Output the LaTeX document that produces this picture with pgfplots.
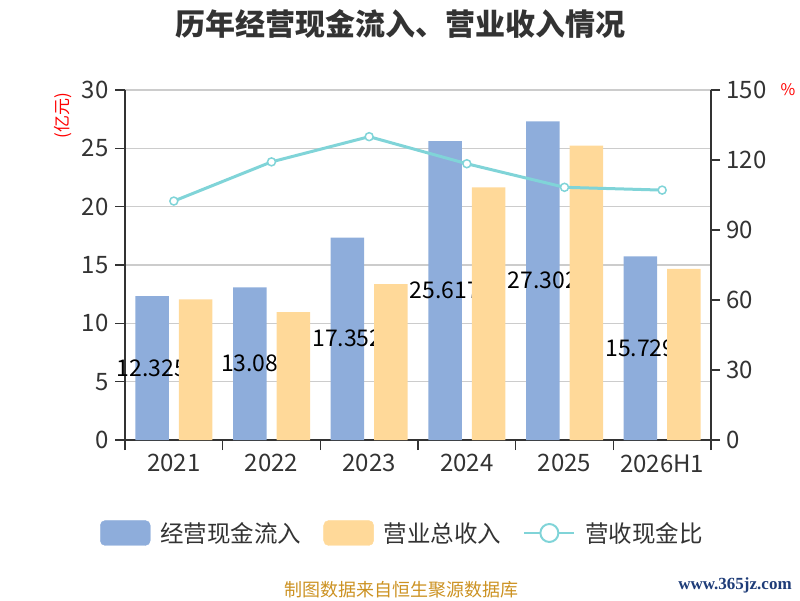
\documentclass[border=0pt]{standalone}
\usepackage{pgfplots}
\pgfplotsset{compat=1.18}
\usepackage{fontspec}
\setmainfont{Noto Sans CJK SC}
\newfontfamily\wmfont{Liberation Serif}
\definecolor{barblue}{RGB}{142,173,219}
\definecolor{barorange}{RGB}{255,217,153}
\definecolor{linecol}{RGB}{128,212,216}
\definecolor{axiscol}{RGB}{51,51,51}
\definecolor{gridcol}{RGB}{204,204,204}
\definecolor{footcol}{RGB}{204,146,34}
\definecolor{wmcol}{RGB}{30,60,120}
\begin{document}
\begin{tikzpicture}
\useasboundingbox (0,0) rectangle (800pt,600pt);
% axis 1: left axis, grid, blue bars with labels
\begin{axis}[
  at={(125pt,160pt)}, anchor=south west,
  width=586pt, height=350pt, scale only axis,
  xmin=-0.5, xmax=5.5, ymin=0, ymax=30,
  axis x line*=bottom, axis y line*=left,
  axis line style={axiscol, line width=1.5pt, -},
  xtick={0,...,5}, xticklabels={2021,2022,2023,2024,2025,2026H1},
  minor xtick={-0.5,0.5,...,5.5},
  major x tick style={draw=none},
  minor x tick style={axiscol, line width=1.5pt},
  minor tick length=10pt,
  ytick={0,5,...,30},
  y tick style={axiscol, line width=1.5pt},
  major tick length=10pt,
  tick align=outside,
  ymajorgrids, grid style={gridcol, line width=1.2pt},
  ticklabel style={font=\fontsize{24}{26}\selectfont, text=axiscol},
  xticklabel style={yshift=-1pt},
  yticklabel style={xshift=-3pt},
  /pgf/number format/assume math mode=true,
  ybar, bar width=33.5pt, bar shift=-21.75pt,
]
\addplot[fill=barblue, draw=none, nodes near coords, point meta=explicit symbolic,
  visualization depends on={rawy \as \rawy},
  every node near coord/.append style={anchor=center, yshift=-\rawy*5.8333pt,
    font=\fontsize{23}{25}\selectfont, text=black}]
  coordinates {(0,12.325)[12.325] (1,13.08)[13.08] (2,17.352)[17.352]
               (3,25.617)[25.617] (4,27.302)[27.302] (5,15.729)[15.729]};
\end{axis}
% axis 2: orange bars, drawn over the labels
\begin{axis}[
  at={(125pt,160pt)}, anchor=south west,
  width=586pt, height=350pt, scale only axis,
  xmin=-0.5, xmax=5.5, ymin=0, ymax=30,
  hide axis,
  ybar, bar width=33.5pt, bar shift=21.75pt,
]
\addplot[fill=barorange, draw=none]
  coordinates {(0,12.06) (1,10.97) (2,13.37) (3,21.66) (4,25.23) (5,14.66)};
\end{axis}
% axis 3: right axis, ratio line, legend
\begin{axis}[
  at={(125pt,160pt)}, anchor=south west,
  width=586pt, height=350pt, scale only axis,
  xmin=-0.5, xmax=5.5, ymin=0, ymax=150,
  axis x line=none, axis y line*=right,
  axis line style={axiscol, line width=1.5pt, -},
  ytick={0,30,...,150},
  y tick style={axiscol, line width=1.5pt},
  major tick length=9pt,
  tick align=outside,
  ticklabel style={font=\fontsize{24}{26}\selectfont, text=axiscol},
  yticklabel style={xshift=3pt},
  /pgf/number format/assume math mode=true,
  legend columns=3,
  legend style={at={(0.4718,-0.2657)}, anchor=center, draw=none, fill=none,
    font=\fontsize{23.5}{25}\selectfont, text=axiscol,
    nodes={inner sep=0pt},
    /tikz/every odd column/.append style={column sep=10pt},
    /tikz/every even column/.append style={column sep=22pt}},
]
\addlegendimage{legend image code/.code={\fill[barblue, rounded corners=5pt] (0pt,-12.5pt) rectangle (50pt,12.5pt);}}
\addlegendentry{经营现金流入}
\addlegendimage{legend image code/.code={\fill[barorange, rounded corners=5pt] (0pt,-12.5pt) rectangle (50pt,12.5pt);}}
\addlegendentry{营业总收入}
\addplot[linecol, line width=3pt, mark=*, mark size=4pt,
  mark options={fill=white, draw=linecol, line width=1.5pt},
  legend image code/.code={\draw[linecol, line width=2pt] (0pt,0pt) -- (50pt,0pt);
    \draw[linecol, line width=2pt, fill=white] (25pt,0pt) circle (9pt);}]
  coordinates {(0,102.4) (1,119.2) (2,130.0) (3,118.4) (4,108.3) (5,107.1)};
\addlegendentry{营收现金比}
\end{axis}
\node[font=\bfseries\fontsize{30}{32}\selectfont, text=axiscol] at (400pt,576pt) {历年经营现金流入、营业收入情况};
\node[font=\fontsize{17}{18}\selectfont, text=red, rotate=90] at (63pt,484pt) {(亿元)};
\node[font=\fontsize{16}{17}\selectfont, text=red] at (788pt,510pt) {\%};
\node[font=\fontsize{18}{19}\selectfont, text=footcol] at (401pt,10pt) {制图数据来自恒生聚源数据库};
\node[font=\wmfont\bfseries\fontsize{17}{18}\selectfont, text=wmcol] at (735pt,15pt) {www.365jz.com};
\end{tikzpicture}
\end{document}
